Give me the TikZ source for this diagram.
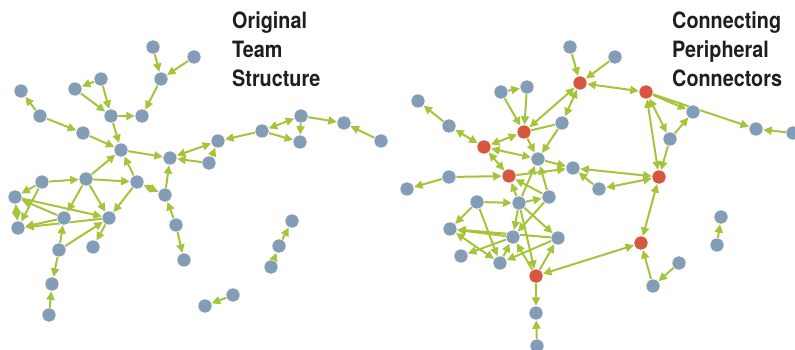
\documentclass[tikz,border=0pt]{standalone}
\usepackage{fontspec}
\newfontfamily\titlefont[FakeStretch=0.88]{TeX Gyre Heros}
\usetikzlibrary{arrows.meta,backgrounds}
\definecolor{nodeblue}{RGB}{130,157,181}
\definecolor{nodered}{RGB}{214,86,64}
\definecolor{edgegreen}{RGB}{165,196,58}
\definecolor{titlecol}{RGB}{30,30,30}
\begin{document}
\begin{tikzpicture}[x=1pt,y=-1pt,
  pn/.style={circle,fill=nodeblue,draw=white,line width=0.5pt,inner sep=0pt,minimum size=14pt},
  rn/.style={pn,fill=nodered},
  ed/.style={draw=edgegreen,line width=2pt,-{Triangle[length=8.5pt,width=8pt]}},
  bd/.style={draw=edgegreen,line width=2pt,{Triangle[length=8.5pt,width=8pt]}-{Triangle[length=8.5pt,width=8pt]}},
  ln/.style={draw=edgegreen,line width=2pt},
  title/.style={anchor=base west,inner sep=0pt,font=\titlefont\bfseries\fontsize{22.5}{29}\selectfont,text=titlecol}]
\useasboundingbox (0,0) rectangle (795,350);
% titles
\node[title] (t1) at (232,29) {Original};
\node[title] (t2) at (232,58) {Team};
\node[title] (t3) at (232,87) {Structure};
\node[title] (t4) at (672,29) {Connecting};
\node[title] (t5) at (672,58) {Peripheral};
\node[title] (t6) at (672,87) {Connectors};
% left graph nodes
\foreach \n/\x/\y in {A1/153/47,A2/194/57,A3/161/79,A4/101/79,A5/75/89,A6/21/91,A7/40/116,A8/111/116,A9/142/116,A10/83/133,
  A11/121/150,A12/170/158,A13/42/182,A14/86/179,A15/137/182,A16/165/195,A17/15/197,A18/18/228,A19/64/218,A20/109/218,
  A21/59/250,A22/93/247,A23/176/225,A24/184/260,A25/52/284,A26/49/315,A27/218/141,A28/209/163,A29/262/131,A30/301/116,
  A31/300/142,A32/344/123,A33/381/141,A34/292/221,A35/279/246,A36/271/267,A37/233/295,A38/205/306}
  \node[pn] (\n) at (\x,\y) {};
% right graph nodes
\foreach \n/\x/\y in {B1/570/47,B3/501/92,B4/527/87,B5/418/101,B6/449/126,B8/562/123,B10/538/159,B12/449/177,B13/407/189,
  B14/573/168,B15/549/197,B16/477/202,B17/519/203,B18/450/229,B19/513/237,B20/558/238,B21/461/256,B22/500/263,B24/536/313,
  B25/537/346,B26/615/57,B28/693/112,B29/670/139,B30/756/129,B31/793/133,B32/599/189,B35/721/217,B36/717/245,B37/679/263,B38/653/286}
  \node[pn] (\n) at (\x,\y) {};
\foreach \n/\x/\y in {B2/580/83,B7/524/132,B9/484/147,B11/509/176,B23/536/276,B27/646/92,B33/659/177,B34/641/243}
  \node[rn] (\n) at (\x,\y) {};
\begin{pgfonlayer}{background}
% left edges
\foreach \a/\b in {A1/A3,A2/A3,A3/A9,A4/A5,A4/A8,A5/A8,A7/A6,A7/A10,A8/A9,A8/A11,A10/A11,A11/A12,A14/A11,A15/A11,
  A13/A14,A14/A15,A16/A12,A28/A12,A28/A27,A29/A27,A29/A31,A30/A31,A30/A32,A33/A32,A23/A16,A23/A24,
  A13/A17,A13/A18,A14/A19,A14/A20,A15/A20,A17/A20,A19/A17,A19/A18,A20/A18,A21/A19,A21/A20,A20/A22,A21/A25,A26/A25,
  A36/A35,A35/A34,A37/A38}
  \draw[ed] (\a) -- (\b);
\foreach \a/\b in {A27/A12,A29/A30,A15/A16,A17/A18}
  \draw[bd] (\a) -- (\b);
% right edges
\foreach \a/\b in {B1/B2,B26/B2,B3/B4,B3/B7,B4/B7,B6/B5,B8/B10,B7/B10,B12/B13,B12/B11,B11/B14,B10/B14,B17/B11,B15/B11,
  B17/B10,B15/B10,B16/B17,B17/B15,B16/B18,B16/B22,B17/B19,B15/B19,B17/B20,B17/B23,B20/B18,B19/B18,B19/B21,B22/B19,
  B23/B19,B20/B22,B23/B20,B23/B24,B25/B24,B27/B28,B27/B30,B31/B30,B29/B28,B29/B33,B32/B14,B38/B34,B37/B38,B36/B35}
  \draw[ed] (\a) -- (\b);
\foreach \a/\b in {B2/B27,B2/B7,B2/B8,B6/B9,B9/B7,B9/B10,B9/B11,B22/B18,B23/B34,B27/B33,B27/B29,B14/B33,B32/B33,B33/B34}
  \draw[bd] (\a) -- (\b);
\draw[ln] (B7) -- (B8);
\end{pgfonlayer}
\end{tikzpicture}
\end{document}
